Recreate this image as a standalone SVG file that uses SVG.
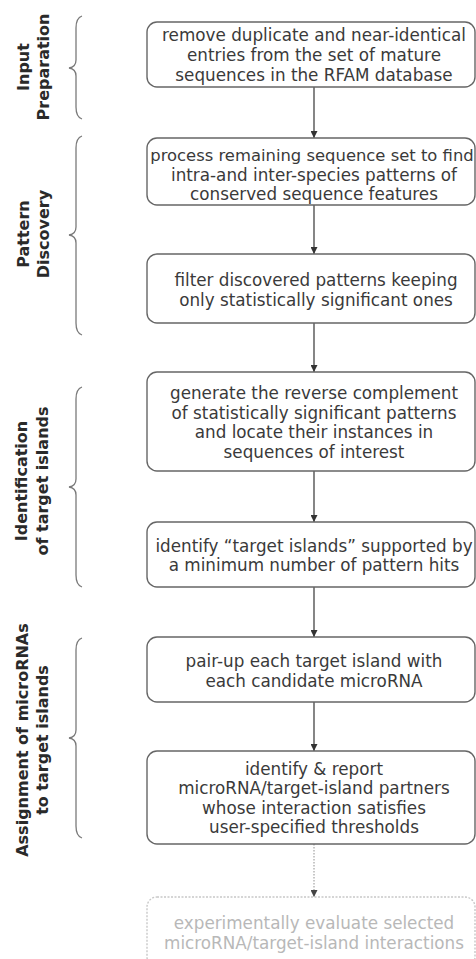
<svg xmlns="http://www.w3.org/2000/svg" width="476" height="959" viewBox="0 0 476 959">
<defs>
<marker id="ah" viewBox="0 0 8 8" refX="8" refY="4" markerWidth="7" markerHeight="7" markerUnits="userSpaceOnUse" orient="auto">
<path d="M0,0 L8,4 L0,8 z" fill="#333"/>
</marker>
<marker id="ahg" viewBox="0 0 8 8" refX="8" refY="4" markerWidth="7" markerHeight="7" markerUnits="userSpaceOnUse" orient="auto">
<path d="M0,0 L8,4 L0,8 z" fill="#444"/>
</marker>
</defs>
<style>
.box{fill:#fff;stroke:#666;stroke-width:1.4}
.boxg{fill:#fff;stroke:#c8c8c8;stroke-width:1.4;stroke-dasharray:2 1.5}
.t{font-family:"DejaVu Sans",Verdana,sans-serif;font-size:16.8px;fill:#3a3a3a;text-anchor:middle}
.tg{font-family:"DejaVu Sans",Verdana,sans-serif;font-size:16.8px;fill:#b8b8b8;text-anchor:middle}
.lab{font-family:"DejaVu Sans",Verdana,sans-serif;font-size:16px;font-weight:bold;fill:#2a2a2a;text-anchor:middle;dominant-baseline:central}
.br{fill:none;stroke:#7a7a7a;stroke-width:1.3}
.c{stroke:#444;stroke-width:1.3;fill:none;marker-end:url(#ah)}
.cg{stroke:#aaa;stroke-width:1.3;fill:none;stroke-dasharray:1.5 1.5;marker-end:url(#ahg)}
</style>
<rect width="476" height="959" fill="#fff"/>

<g id="stages">
<g id="stage-input">
<path class="br" d="M82,16 Q76,18 76,28 L76,60 Q76,67 69,68 Q76,69 76,76 L76,107 Q76,117 82,119"/>
<g transform="translate(33,67) rotate(-90)"><text class="lab" x="0" y="-10">Input</text><text class="lab" x="0" y="10">Preparation</text></g>
</g>
<g id="stage-pattern">
<path class="br" d="M82,136 Q76,138 76,148 L76,227 Q76,234 69,235 Q76,236 76,243 L76,323 Q76,333 82,335"/>
<g transform="translate(33,234) rotate(-90)"><text class="lab" x="0" y="-10">Pattern</text><text class="lab" x="0" y="10">Discovery</text></g>
</g>
<g id="stage-identification">
<path class="br" d="M82,387 Q76,389 76,399 L76,479 Q76,486 69,487 Q76,488 76,495 L76,575 Q76,585 82,587"/>
<g transform="translate(32,481) rotate(-90)"><text class="lab" x="0" y="-11">Identification</text><text class="lab" x="0" y="10">of target islands</text></g>
</g>
<g id="stage-assignment">
<path class="br" d="M82,638 Q76,640 76,650 L76,730 Q76,737 69,738 Q76,739 76,746 L76,826 Q76,836 82,838"/>
<g transform="translate(32,740) rotate(-90)"><text class="lab" x="0" y="-10">Assignment of microRNAs</text><text class="lab" x="0" y="10">to target islands</text></g>
</g>
</g>

<g id="connectors">
<line class="c" x1="314" y1="87" x2="314" y2="138"/>
<line class="c" x1="314" y1="205" x2="314" y2="254"/>
<line class="c" x1="314" y1="323" x2="314" y2="372"/>
<line class="c" x1="314" y1="471" x2="314" y2="522"/>
<line class="c" x1="314" y1="587" x2="314" y2="637"/>
<line class="c" x1="314" y1="702" x2="314" y2="751"/>
<line class="cg" x1="314" y1="844" x2="314" y2="897"/>
</g>

<g id="n1">
<rect class="box" x="147" y="22" width="328" height="65" rx="10"/>
<text class="t" x="314" y="40.5">remove duplicate and near-identical</text>
<text class="t" x="314" y="60.5">entries from the set of mature</text>
<text class="t" x="314" y="81">sequences in the RFAM database</text>
</g>
<g id="n2">
<rect class="box" x="147" y="138" width="328" height="67" rx="10"/>
<text class="t" x="312" y="160.5" style="font-size:16.4px">process remaining sequence set to find</text>
<text class="t" x="314" y="180.5">intra-and inter-species patterns of</text>
<text class="t" x="314" y="200">conserved sequence features</text>
</g>
<g id="n3">
<rect class="box" x="147" y="254" width="328" height="69" rx="10"/>
<text class="t" x="316" y="285.5">filter discovered patterns keeping</text>
<text class="t" x="316" y="305.5">only statistically significant ones</text>
</g>
<g id="n4">
<rect class="box" x="147" y="372" width="328" height="99" rx="10"/>
<text class="t" x="314" y="398.5">generate the reverse complement</text>
<text class="t" x="314" y="418.5">of statistically significant patterns</text>
<text class="t" x="314" y="437.5">and locate their instances in</text>
<text class="t" x="314" y="457.5">sequences of interest</text>
</g>
<g id="n5">
<rect class="box" x="147" y="522" width="328" height="65" rx="10"/>
<text class="t" x="314" y="551.5">identify “target islands” supported by</text>
<text class="t" x="314" y="570.5">a minimum number of pattern hits</text>
</g>
<g id="n6">
<rect class="box" x="147" y="637" width="328" height="65" rx="10"/>
<text class="t" x="314" y="666.5">pair-up each target island with</text>
<text class="t" x="314" y="686.5">each candidate microRNA</text>
</g>
<g id="n7">
<rect class="box" x="147" y="751" width="328" height="93" rx="10"/>
<text class="t" x="314" y="774.5">identify &amp; report</text>
<text class="t" x="314" y="793.5">microRNA/target-island partners</text>
<text class="t" x="314" y="813.5">whose interaction satisfies</text>
<text class="t" x="314" y="833">user-specified thresholds</text>
</g>
<g id="n8">
<rect class="boxg" x="147" y="897" width="328" height="70" rx="10"/>
<text class="tg" x="314" y="928.5">experimentally evaluate selected</text>
<text class="tg" x="314" y="948.5">microRNA/target-island interactions</text>
</g>
</svg>
